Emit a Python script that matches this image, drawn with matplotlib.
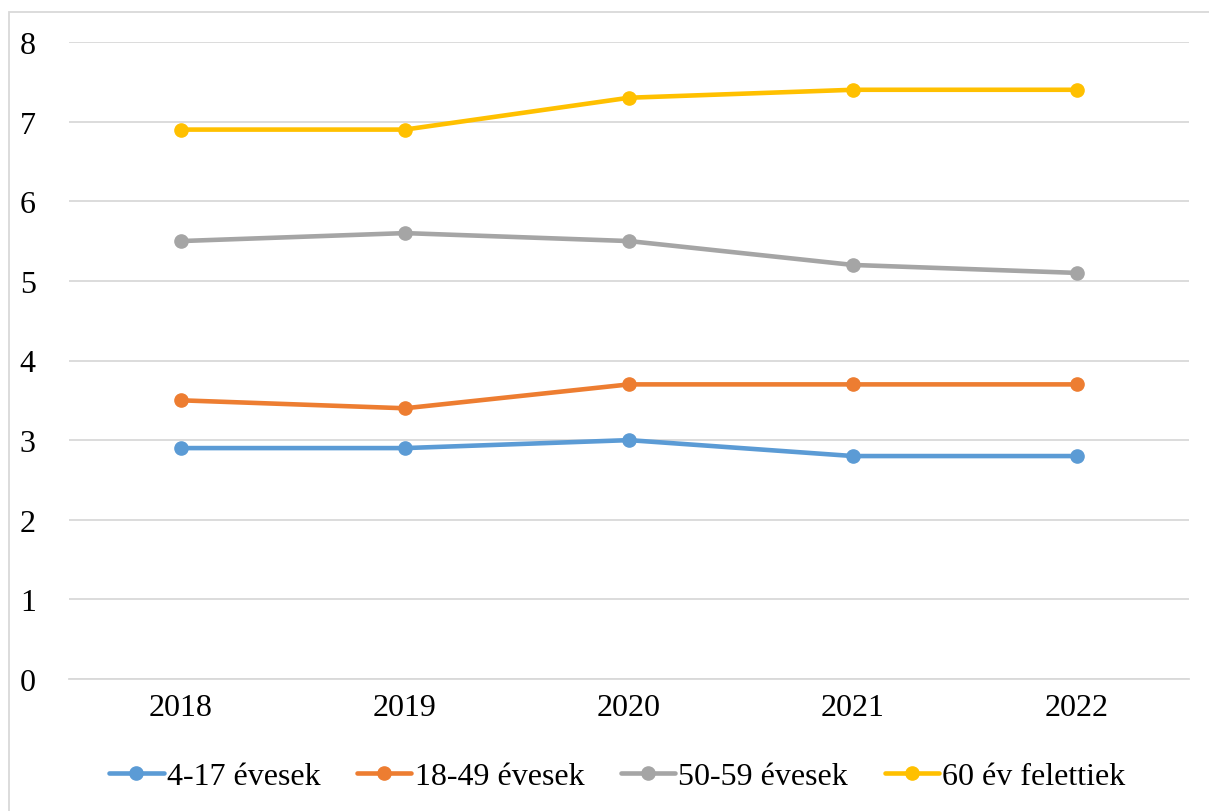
import matplotlib
matplotlib.use("Agg")
import matplotlib.pyplot as plt
from matplotlib.patches import Rectangle

years = ["2018", "2019", "2020", "2021", "2022"]
s_4_17 = [2.9, 2.9, 3.0, 2.8, 2.8]
s_18_49 = [3.5, 3.4, 3.7, 3.7, 3.7]
s_50_59 = [5.5, 5.6, 5.5, 5.2, 5.1]
s_60 = [6.9, 6.9, 7.3, 7.4, 7.4]
labels = ["4-17 évesek", "18-49 évesek", "50-59 évesek", "60 év felettiek"]
colors = ["#5B9BD5", "#ED7D31", "#A5A5A5", "#FFC000"]
yticks = [0, 1, 2, 3, 4, 5, 6, 7, 8]

plt.rcParams['font.family'] = ['Liberation Serif', 'DejaVu Serif']

W, H = 1209, 812
fig = plt.figure(figsize=(W / 100, H / 100), dpi=100)
ax = fig.add_axes([69 / W, 1 - 680 / H, (1189 - 69) / W, (680 - 43) / H])

x = list(range(len(years)))
for series, lab, c in zip([s_4_17, s_18_49, s_50_59, s_60], labels, colors):
    ax.plot(x, series, color=c, lw=3.3, marker='o', markersize=9.5, label=lab,
            solid_capstyle='round', zorder=3)

ax.set_xlim(-0.5, len(years) - 0.5)
ax.set_ylim(0, 8)
ax.set_yticks(yticks)
ax.set_xticks(x)
ax.set_xticklabels(years)
ax.grid(axis='y', color='#D9D9D9', lw=1.3)
ax.set_axisbelow(True)
for s in ['top', 'right', 'left']:
    ax.spines[s].set_visible(False)
ax.spines['bottom'].set_color('#D9D9D9')
ax.spines['bottom'].set_linewidth(1.3)
ax.tick_params(axis='both', length=0, labelsize=23, colors='black')
ax.tick_params(axis='y', pad=24)
ax.tick_params(axis='x', pad=10)

fig.legend(loc='center', bbox_to_anchor=(0.5 + 13 / W, 1 - 777 / H), ncol=4, frameon=False,
           prop={'family': ['Liberation Serif'], 'size': 23},
           handlelength=1.7, handletextpad=0.1, columnspacing=1.15)

fig.patches.append(Rectangle((9 / W, -0.01), 1.02, 1 - 13 / H + 0.01,
                             transform=fig.transFigure, fill=False,
                             edgecolor='#D9D9D9', lw=1.3))

fig.savefig("out.png", dpi=100)
